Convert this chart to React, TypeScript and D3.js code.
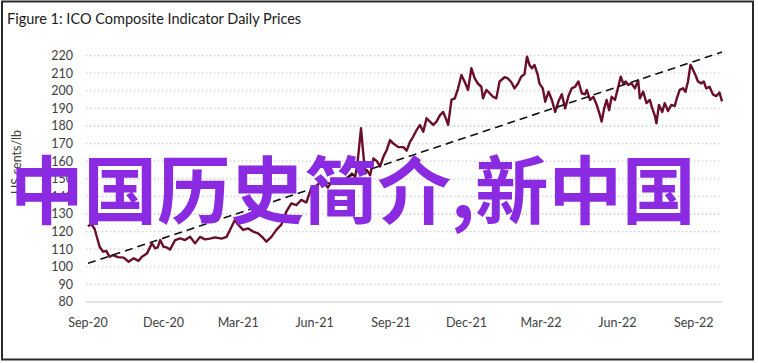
import React from 'react';
import * as d3 from 'd3';

const title = 'Figure 1: ICO Composite Indicator Daily Prices';
const yLabel = 'US cents/lb';
const overlayText = '中国历史简介,新中国';

const yTicks = [80, 90, 100, 110, 120, 130, 140, 150, 160, 170, 180, 190, 200, 210, 220];
const xTickDates = ['2020-09-01', '2020-12-01', '2021-03-01', '2021-06-01', '2021-09-01', '2021-12-01', '2022-03-01', '2022-06-01', '2022-09-01'];
const xDomain = ['2020-09-01', '2022-10-05'];

// ICO composite indicator
const priceDates = [
  '2020-09-01', '2020-09-05', '2020-09-09', '2020-09-15', '2020-09-19', '2020-09-23', '2020-09-27', '2020-10-01', '2020-10-07', '2020-10-14',
  '2020-10-20', '2020-10-26', '2020-11-01', '2020-11-05', '2020-11-11', '2020-11-17', '2020-11-21', '2020-11-24', '2020-11-27', '2020-12-01',
  '2020-12-05', '2020-12-09', '2020-12-15', '2020-12-21', '2020-12-27', '2021-01-02', '2021-01-08', '2021-01-14', '2021-01-20', '2021-01-26',
  '2021-02-01', '2021-02-09', '2021-02-15', '2021-02-21', '2021-02-25', '2021-03-01', '2021-03-07', '2021-03-13', '2021-03-19', '2021-03-25',
  '2021-03-31', '2021-04-04', '2021-04-10', '2021-04-16', '2021-04-22', '2021-04-28', '2021-05-04', '2021-05-10', '2021-05-16', '2021-05-22',
  '2021-05-28', '2021-06-03', '2021-06-10', '2021-06-17', '2021-06-24', '2021-07-02', '2021-07-09', '2021-07-16', '2021-07-20', '2021-07-23',
  '2021-07-27', '2021-07-29', '2021-08-01', '2021-08-03', '2021-08-07', '2021-08-11', '2021-08-15', '2021-08-19', '2021-08-23', '2021-08-27',
  '2021-08-31', '2021-09-04', '2021-09-10', '2021-09-16', '2021-09-20', '2021-09-24', '2021-09-28', '2021-10-02', '2021-10-06', '2021-10-10',
  '2021-10-14', '2021-10-18', '2021-10-22', '2021-10-26', '2021-10-30', '2021-11-03', '2021-11-07', '2021-11-09', '2021-11-13', '2021-11-17',
  '2021-11-21', '2021-11-25', '2021-11-29', '2021-12-03', '2021-12-07', '2021-12-11', '2021-12-15', '2021-12-19', '2021-12-21', '2021-12-25',
  '2021-12-29', '2022-01-02', '2022-01-06', '2022-01-10', '2022-01-16', '2022-01-20', '2022-01-24', '2022-01-28', '2022-02-01', '2022-02-05',
  '2022-02-09', '2022-02-12', '2022-02-15', '2022-02-18', '2022-02-21', '2022-02-25', '2022-02-27', '2022-03-03', '2022-03-06', '2022-03-10',
  '2022-03-14', '2022-03-18', '2022-03-22', '2022-03-26', '2022-03-30', '2022-04-03', '2022-04-07', '2022-04-11', '2022-04-15', '2022-04-19',
  '2022-04-23', '2022-04-25', '2022-04-29', '2022-05-03', '2022-05-07', '2022-05-11', '2022-05-13', '2022-05-16', '2022-05-19', '2022-05-22',
  '2022-05-25', '2022-05-29', '2022-06-02', '2022-06-05', '2022-06-08', '2022-06-11', '2022-06-14', '2022-06-18', '2022-06-22', '2022-06-26',
  '2022-06-28', '2022-07-02', '2022-07-06', '2022-07-10', '2022-07-13', '2022-07-16', '2022-07-18', '2022-07-21', '2022-07-25', '2022-07-28',
  '2022-08-01', '2022-08-05', '2022-08-09', '2022-08-11', '2022-08-15', '2022-08-19', '2022-08-22', '2022-08-25', '2022-08-28', '2022-08-31',
  '2022-09-03', '2022-09-06', '2022-09-10', '2022-09-13', '2022-09-16', '2022-09-20', '2022-09-24', '2022-09-28', '2022-10-02', '2022-10-05',
];
const priceValues = [
  123, 124.3, 121.5, 111.4, 108.6, 109, 105.7, 106.6, 105.5, 105.2,
  102.9, 104.8, 103.4, 105.7, 107.5, 113.3, 110.5, 111, 115.2, 111.4,
  111, 109.8, 115.2, 116.1, 115.2, 117.1, 113.3, 117, 115.6, 116,
  116.7, 116, 117, 122.8, 126.6, 123.9, 121, 121.8, 120, 119,
  116.4, 114.3, 117, 121, 124, 131.3, 136, 135, 138, 136.5,
  144.6, 146, 149, 145, 150, 147, 150, 153, 151, 160,
  178.7, 168, 153, 155, 152, 161.6, 160, 157, 162.6, 166.4,
  172, 170, 168, 168, 166, 171, 174, 177.7, 180.6, 176.8,
  184.4, 182.5, 180.6, 182.5, 186, 188, 183.4, 180.6, 194.8, 195.7,
  201.4, 209, 205, 200.5, 212.8, 207, 204, 202.3, 195.7, 200.5,
  198.6, 196.6, 195.7, 205.3, 207.7, 207, 205, 201.4, 204, 208,
  209.5, 219.4, 214.7, 212.8, 214.7, 209, 204.2, 201.4, 193.8, 199.5,
  194.8, 188, 194, 198, 190, 197, 201.4, 202.3, 205.3, 198.6,
  198, 200.5, 194.8, 196.6, 192, 186, 182.5, 190, 194.8, 189,
  196.6, 194.8, 202.3, 208, 204.2, 205.3, 203.4, 204.2, 201.4, 206,
  195.7, 199.5, 193, 194.8, 190, 186, 181.5, 192, 188, 193,
  188.5, 192, 191.3, 194.8, 200.5, 201.4, 199.5, 205.3, 214.7, 212,
  209, 205.3, 204.2, 205.3, 201.4, 202.3, 198, 197, 199, 194,
];

const trendDates = ['2020-09-01', '2022-10-05'];
const trendValues = [102, 222];

const W = 758;
const H = 363;
const font = 'Lato, "Open Sans", sans-serif';
const parse = d3.timeParse('%Y-%m-%d');

export default function App() {
  const x = d3.scaleTime()
    .domain(xDomain.map(d => parse(d)!))
    .range([88, 722]);
  const y = d3.scaleLinear()
    .domain([80, 220])
    .range([302, 55.6]);

  const line = d3.line<[Date, number]>()
    .x(d => x(d[0]))
    .y(d => y(d[1]));

  const prices: [Date, number][] = priceDates.map((d, i) => [parse(d)!, priceValues[i]]);
  const trend: [Date, number][] = trendDates.map((d, i) => [parse(d)!, trendValues[i]]);
  const fmt = d3.timeFormat('%b-%y');

  return (
    <div>
      <style>{'body{margin:0;background:#fff}'}</style>
      <svg width={W} height={H} style={{ display: 'block' }}>
        <rect x={0} y={0} width={W} height={H} fill="#fff" />
        <rect x={2} y={1.5} width={751} height={358} fill="#fff" stroke="#2b2b2b" strokeWidth={2} />
        <text x={7} y={24} fontFamily={font} fontSize={14.5} fill="#1a1a1a">{title}</text>

        {/* grid */}
        {yTicks.map(t => (
          <line key={t} x1={86} x2={722} y1={y(t)} y2={y(t)}
            stroke={t === 80 ? '#d9d9d9' : '#c8c8c8'}
            strokeWidth={t === 80 ? 1.5 : 1.3}
            strokeDasharray={t === 80 ? undefined : '1.3,2.7'} />
        ))}
        {yTicks.map(t => (
          <text key={'l' + t} x={73} y={y(t)} dy="0.35em" textAnchor="end"
            fontFamily={font} fontSize={12.5} fill="#404040">{t}</text>
        ))}
        {xTickDates.map(d => (
          <text key={d} x={x(parse(d)!)} y={327} textAnchor="middle"
            fontFamily={font} fontSize={12.5} fill="#404040">{fmt(parse(d)!)}</text>
        ))}
        <text transform={`translate(21,162) rotate(-90)`} textAnchor="middle"
          fontFamily={font} fontSize={12.5} fill="#404040">{yLabel}</text>

        <path d={line(prices)!} fill="none" stroke="#6a0e2b" strokeWidth={2.4} strokeLinejoin="round" />
        <path d={line(trend)!} fill="none" stroke="#111" strokeWidth={1.6} strokeDasharray="8,5" />

        <text x={10} y={218} fontFamily='"Noto Sans CJK SC", sans-serif' fontSize={73.5}
          fontWeight="bold" fill="#8a2be2">{overlayText}</text>
      </svg>
    </div>
  );
}
